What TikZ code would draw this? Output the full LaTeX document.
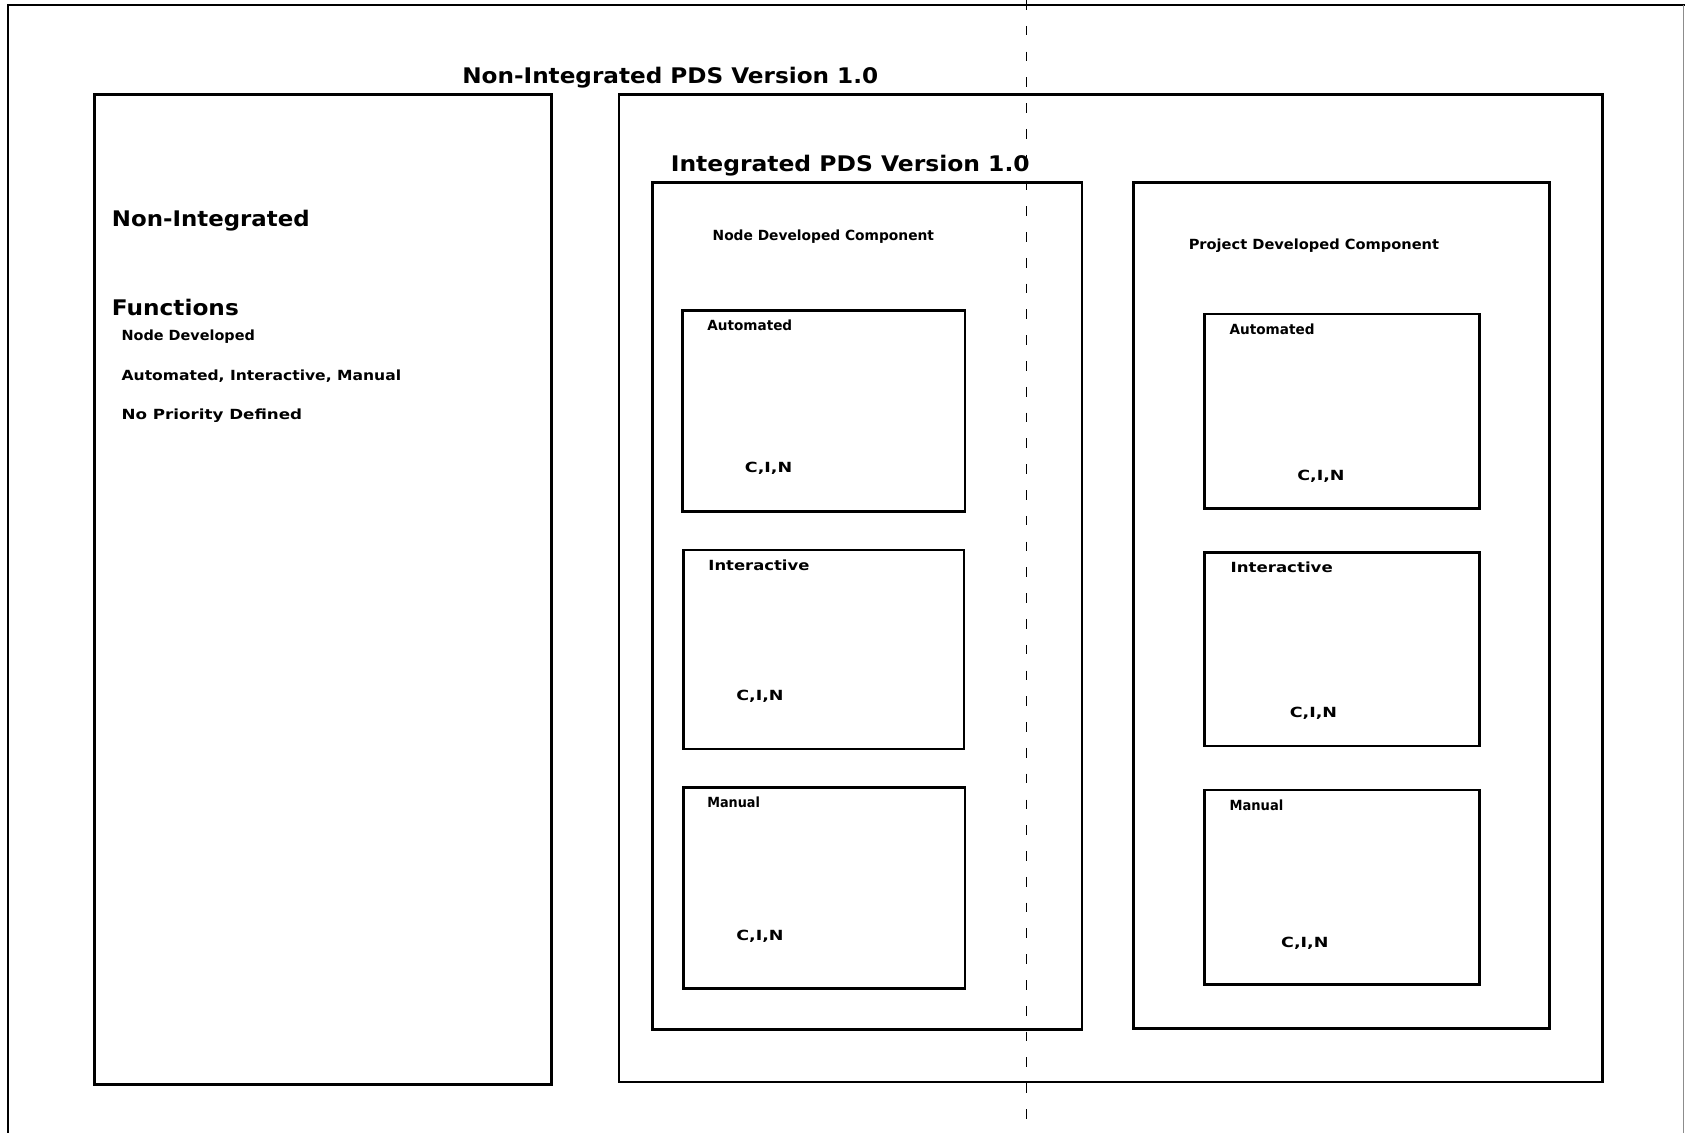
\documentclass[tikz,border=0pt]{standalone}
\usepackage{graphicx}
\usepackage{fontspec}
\newfontfamily\plotfont{DejaVu Sans}
\newcommand{\fitw}[2]{\resizebox{#1pt}{\height}{#2}}
\begin{document}
\begin{tikzpicture}[x=1pt,y=-1pt,
  box/.style={draw=black,line width=2.4pt,line join=miter},
  frameline/.style={draw=black,line width=2.2pt},
  cutline/.style={draw=black,line width=1.3pt,dash pattern=on 9pt off 15pt},
  bigtxt/.style={anchor=west,inner sep=0pt,font=\plotfont\bfseries\fontsize{20}{22}\selectfont},
  smalltxt/.style={anchor=west,inner sep=0pt,font=\plotfont\bfseries\fontsize{13}{15}\selectfont}]
\useasboundingbox[fill=white] (0,0) rectangle (1568,1054);
% outer frame
\draw[frameline] (7.7,1054) -- (7.7,4.6) -- (1568,4.6);
\draw[draw=black!45,line width=1.5pt] (1566.5,4.6) -- (1566.5,1054);
% cut line
\draw[cutline] (955,0) -- (955,1054);
% titles
\node[bigtxt] (t1) at (430,72) {\fitw{387}{Non-Integrated PDS Version 1.0}};
% left box
\draw[box] (88,88) rectangle (513,1009);
\node[bigtxt] (ni) at (104,205) {\fitw{184}{Non-Integrated}};
\node[bigtxt] (fn) at (104,286) {\fitw{118}{Functions}};
\node[smalltxt] (f1) at (113,313) {\fitw{124}{Node Developed}};
\node[smalltxt] (f2) at (113,350) {\fitw{260}{Automated, Interactive, Manual}};
\node[smalltxt] (f3) at (113,387) {\fitw{168}{No Priority Defined}};
% big right box
\draw[box] (576,88) rectangle (1491,1007);
\node[bigtxt] (t2) at (624,154) {\fitw{334}{Integrated PDS Version 1.0}};
% node developed component
\draw[box] (607,170) rectangle (1007,958);
\node[smalltxt] (ndc) at (663,220) {\fitw{206}{Node Developed Component}};
\draw[box] (635,289) rectangle (898,476);
\node[smalltxt] (na) at (658,303) {\fitw{79}{Automated}};
\node[smalltxt] (nac) at (693,436) {\fitw{44}{C,I,N}};
\draw[box] (636,512) rectangle (897,697);
\node[smalltxt] (ni2) at (659,526) {\fitw{94}{Interactive}};
\node[smalltxt] (nic) at (685,648) {\fitw{44}{C,I,N}};
\draw[box] (636,733) rectangle (898,920);
\node[smalltxt] (nm) at (658,747) {\fitw{49}{Manual}};
\node[smalltxt] (nmc) at (685,871) {\fitw{44}{C,I,N}};
% project developed component
\draw[box] (1055,170) rectangle (1442,957);
\node[smalltxt] (pdc) at (1106,229) {\fitw{233}{Project Developed Component}};
\draw[box] (1121,292) rectangle (1377,473);
\node[smalltxt] (pa) at (1144,306) {\fitw{79}{Automated}};
\node[smalltxt] (pac) at (1207,443) {\fitw{44}{C,I,N}};
\draw[box] (1121,514) rectangle (1377,694);
\node[smalltxt] (pi) at (1145,528) {\fitw{95}{Interactive}};
\node[smalltxt] (pic) at (1200,664) {\fitw{44}{C,I,N}};
\draw[box] (1121,735) rectangle (1377,916);
\node[smalltxt] (pm) at (1144,749) {\fitw{50}{Manual}};
\node[smalltxt] (pmc) at (1192,878) {\fitw{44}{C,I,N}};
\end{tikzpicture}
\end{document}
